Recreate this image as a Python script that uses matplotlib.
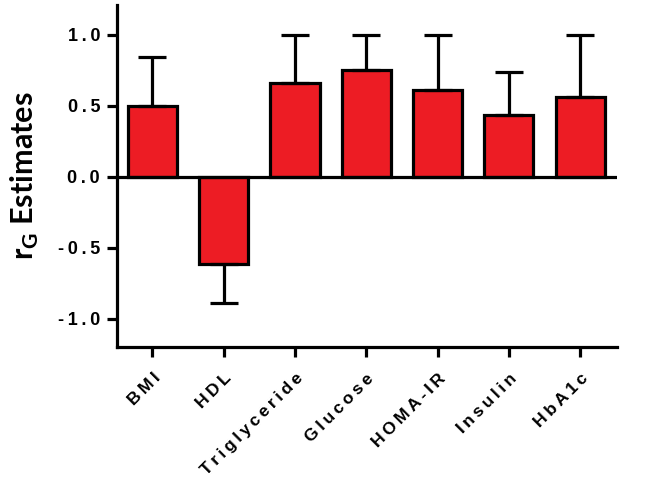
import numpy as np
import matplotlib
matplotlib.use('Agg')
import matplotlib.pyplot as plt

# data
traits = ['BMI', 'HDL', 'Triglyceride', 'Glucose', 'HOMA-IR', 'Insulin', 'HbA1c']
rg = [0.495, -0.617, 0.662, 0.749, 0.61, 0.432, 0.563]
err = [0.35, 0.273, 0.338, 0.251, 0.39, 0.303, 0.437]
yticks = [-1.0, -0.5, 0.0, 0.5, 1.0]

plt.rcParams['font.family'] = ['Liberation Sans', 'DejaVu Sans']
plt.rcParams['mathtext.fontset'] = 'custom'
plt.rcParams['mathtext.bf'] = 'Lato:bold'
plt.rcParams['mathtext.rm'] = 'Lato:bold'


def spaced(s):
    # Prism-style wide letter spacing
    return '\u2009'.join(s)


lw = 2.3
fig = plt.figure(figsize=(6.63, 4.84), dpi=100)
ax = fig.add_axes([0.176, 0.283, 0.755, 0.707])

x = np.arange(len(traits))
lower = [e if v < 0 else 0 for v, e in zip(rg, err)]
upper = [e if v >= 0 else 0 for v, e in zip(rg, err)]
ax.bar(x, rg, width=0.69, color='#ED1C24', edgecolor='black', linewidth=lw,
       yerr=[lower, upper], capsize=10,
       error_kw=dict(elinewidth=lw, capthick=lw, ecolor='black'), zorder=2)
ax.axhline(0, color='black', lw=lw, zorder=3)

ax.set_xlim(-0.5, 6.52)
ax.set_ylim(-1.2, 1.21)
ax.set_yticks(yticks)
ax.set_yticklabels([spaced('%.1f' % t) for t in yticks], fontsize=13, fontweight='bold')
ax.set_xticks(x)
ax.set_xticklabels([spaced(t) for t in traits], rotation=45, ha='right',
                   rotation_mode='anchor', fontsize=12.5, fontweight='bold')

for s in ['top', 'right']:
    ax.spines[s].set_visible(False)
for s in ['left', 'bottom']:
    ax.spines[s].set_linewidth(lw)
ax.tick_params(axis='both', width=lw, length=7, direction='out')
ax.tick_params(axis='x', pad=10)
ax.tick_params(axis='y', pad=5)

ax.set_ylabel(r'$\mathbf{r}_\mathbf{G}$ Estimates', fontsize=22,
              family='Lato', fontweight='bold', labelpad=12)

fig.savefig('out.png', dpi=100)
